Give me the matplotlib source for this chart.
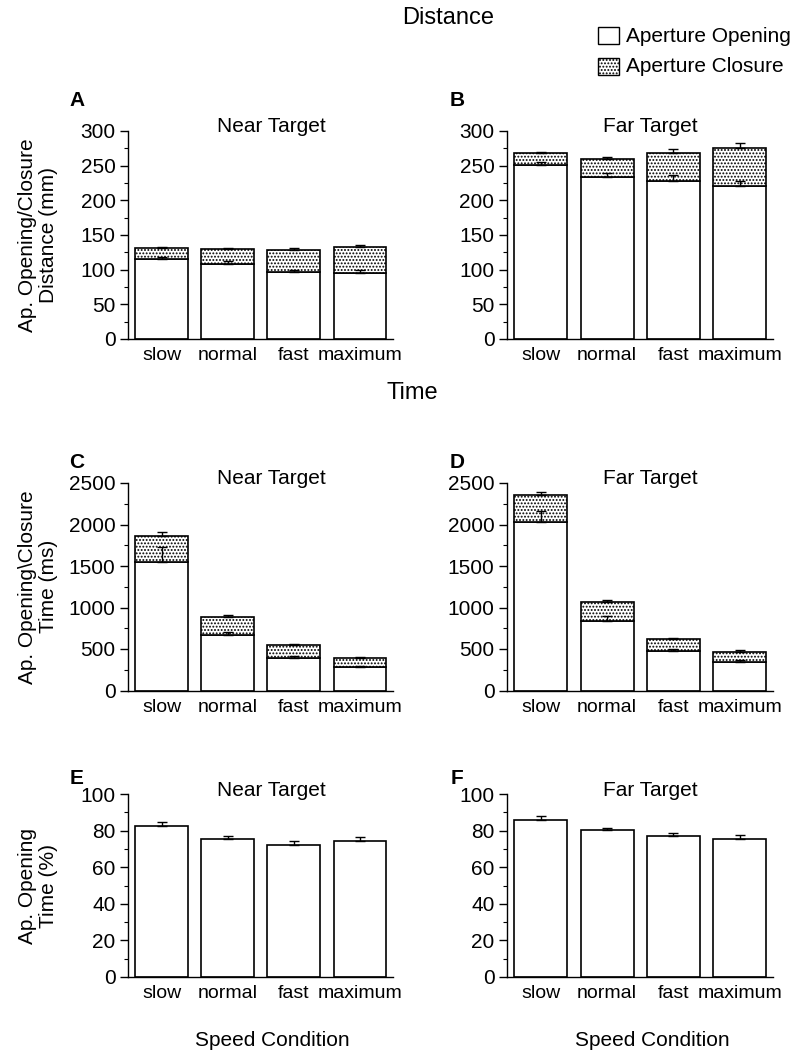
import matplotlib.pyplot as plt
import numpy as np
from matplotlib.patches import Rectangle

plt.rcParams["font.family"] = ["Liberation Sans", "DejaVu Sans"]
plt.rcParams["hatch.linewidth"] = 0.9
plt.rcParams["hatch.color"] = "0.2"

# ------------------------------------------------------------
# data
# ------------------------------------------------------------
speeds = ["slow", "normal", "fast", "maximum"]

dist_near_open = [115, 108, 96, 95]
dist_near_open_err = [3, 4, 4, 4]
dist_near_total = [131, 130, 128, 132]
dist_near_total_err = [2, 1.5, 3, 3]

dist_far_open = [251, 234, 228, 221]
dist_far_open_err = [4, 5, 8, 7]
dist_far_total = [268, 260, 268, 275]
dist_far_total_err = [2, 2, 6, 7]

time_near_open = [1545, 665, 390, 286]
time_near_open_err = [180, 43, 20, 12]
time_near_total = [1860, 889, 543, 386]
time_near_total_err = [45, 24, 20, 16]

time_far_open = [2035, 838, 477, 349]
time_far_open_err = [130, 64, 24, 16]
time_far_total = [2358, 1063, 622, 466]
time_far_total_err = [32, 28, 16, 20]

pct_near = [82.5, 75.6, 72.1, 74.5]
pct_near_err = [2.0, 1.6, 2.0, 1.8]
pct_far = [86.0, 80.1, 76.8, 75.6]
pct_far_err = [2.0, 1.3, 1.9, 2.2]

# ------------------------------------------------------------
# layout (pixel positions converted to figure fractions)
# ------------------------------------------------------------
W, H = 800, 1056
fig = plt.figure(figsize=(W / 100, H / 100), dpi=100)


def make_ax(left_px, top_px, bottom_px, right_px):
    return fig.add_axes([left_px / W, 1 - bottom_px / H,
                         (right_px - left_px) / W, (bottom_px - top_px) / H])


x = np.arange(len(speeds))
bar_w = 0.8
err_kw = dict(fmt="none", ecolor="black", elinewidth=1.0, capsize=3.5, capthick=1.0)


def style_ax(ax, ymax, major, title):
    ax.set_xlim(-0.51, 3.5)
    ax.set_ylim(0, ymax)
    ax.set_yticks(np.arange(0, ymax + 1, major))
    ax.set_yticks(np.arange(major / 2, ymax, major), minor=True)
    ax.spines["top"].set_visible(False)
    ax.spines["right"].set_visible(False)
    ax.spines["left"].set_linewidth(1.0)
    ax.spines["bottom"].set_linewidth(1.0)
    ax.set_xticks(x)
    ax.set_xticklabels(speeds, fontsize=14)
    ax.tick_params(axis="x", length=0, pad=6)
    ax.tick_params(axis="y", which="major", length=6, width=1.0, labelsize=15, pad=3)
    ax.tick_params(axis="y", which="minor", length=3, width=0.8)
    ax.text(0.54, 1.02, title, transform=ax.transAxes, ha="center", va="center",
            fontsize=15)


def stacked(ax, opening, opening_err, total, total_err):
    closure = np.array(total) - np.array(opening)
    ax.bar(x, opening, width=bar_w, color="white", edgecolor="black", linewidth=1.2,
           zorder=2)
    ax.bar(x, closure, width=bar_w, bottom=opening, color="white", edgecolor="black",
           linewidth=1.2, hatch=".....", zorder=2)
    ax.errorbar(x, opening, yerr=[np.zeros(4), opening_err], zorder=3, **err_kw)
    ax.errorbar(x, total, yerr=[np.zeros(4), total_err], zorder=3, **err_kw)


def single(ax, vals, errs):
    ax.bar(x, vals, width=bar_w, color="white", edgecolor="black", linewidth=1.2,
           zorder=2)
    ax.errorbar(x, vals, yerr=[np.zeros(4), errs], zorder=3, **err_kw)


# panel A / B : distance
axA = make_ax(128, 131, 339, 393)
stacked(axA, dist_near_open, dist_near_open_err, dist_near_total, dist_near_total_err)
style_ax(axA, 300, 50, "Near Target")

axB = make_ax(507, 131, 339, 773)
stacked(axB, dist_far_open, dist_far_open_err, dist_far_total, dist_far_total_err)
style_ax(axB, 300, 50, "Far Target")

# panel C / D : time
axC = make_ax(128, 483, 690.5, 393)
stacked(axC, time_near_open, time_near_open_err, time_near_total, time_near_total_err)
style_ax(axC, 2500, 500, "Near Target")

axD = make_ax(507, 483, 690.5, 773)
stacked(axD, time_far_open, time_far_open_err, time_far_total, time_far_total_err)
style_ax(axD, 2500, 500, "Far Target")

# panel E / F : percentage of opening time
axE = make_ax(128, 794, 977, 393)
single(axE, pct_near, pct_near_err)
style_ax(axE, 100, 20, "Near Target")

axF = make_ax(507, 794, 977, 773)
single(axF, pct_far, pct_far_err)
style_ax(axF, 100, 20, "Far Target")

# y labels (label coords = right edge of the rotated text block)
for ax, lab in [(axA, "Ap. Opening/Closure\nDistance (mm)"),
                (axC, "Ap. Opening\\Closure\nTime (ms)"),
                (axE, "Ap. Opening\nTime (%)")]:
    ax.set_ylabel(lab, fontsize=15, linespacing=1.15)
    ax.yaxis.set_label_coords(-0.265, 0.5)

# panel letters
for lab, px, py in [("A", 77, 100), ("B", 457, 100), ("C", 77, 462),
                    ("D", 457, 462), ("E", 77, 778), ("F", 457, 778)]:
    fig.text(px / W, 1 - py / H, lab, fontsize=15, fontweight="bold",
             ha="center", va="center")

# section headers
fig.text(448 / W, 1 - 18 / H, "Distance", fontsize=17, ha="center", va="center")
fig.text(412 / W, 1 - 393 / H, "Time", fontsize=17, ha="center", va="center")
fig.text(272 / W, 1 - 1040 / H, "Speed Condition", fontsize=15, ha="center", va="center")
fig.text(652 / W, 1 - 1040 / H, "Speed Condition", fontsize=15, ha="center", va="center")

# legend (drawn as patches + text in figure coords)
fig.patches.append(Rectangle((598 / W, 1 - 44 / H), 21 / W, 17 / H,
                             transform=fig.transFigure, facecolor="white",
                             edgecolor="black", linewidth=1.0))
fig.patches.append(Rectangle((598 / W, 1 - 75 / H), 21 / W, 17 / H,
                             transform=fig.transFigure, facecolor="white",
                             edgecolor="black", linewidth=1.0, hatch="....."))
fig.text(626 / W, 1 - 36 / H, "Aperture Opening", fontsize=15, ha="left", va="center")
fig.text(626 / W, 1 - 66 / H, "Aperture Closure", fontsize=15, ha="left", va="center")

fig.savefig("out.png", dpi=100)
